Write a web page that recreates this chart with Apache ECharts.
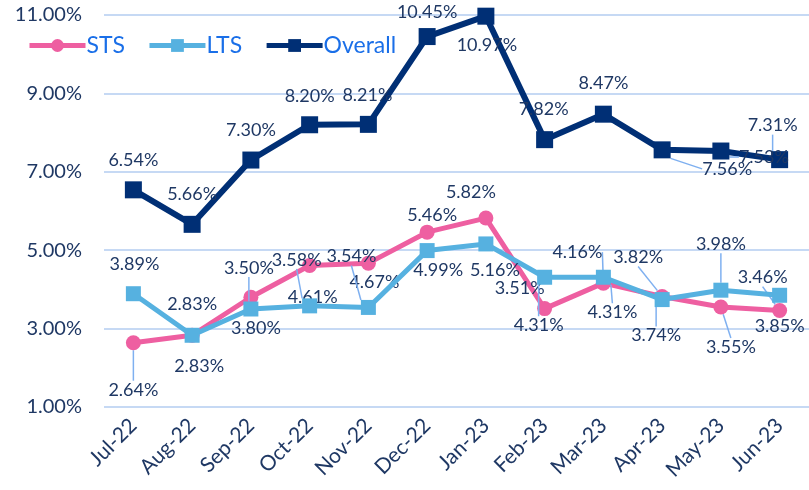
<!DOCTYPE html>
<html>
<head>
<meta charset="utf-8">
<script src="https://cdn.jsdelivr.net/npm/echarts@6/dist/echarts.min.js"></script>
<style>html,body{margin:0;padding:0;background:#fff;}#c{width:809px;height:490px;}</style>
</head>
<body>
<div id="c"></div>
<script>
const categories = ['Jul-22','Aug-22','Sep-22','Oct-22','Nov-22','Dec-22','Jan-23','Feb-23','Mar-23','Apr-23','May-23','Jun-23'];
const stsValues = [2.64, 2.83, 3.80, 4.61, 4.67, 5.46, 5.82, 3.51, 4.16, 3.82, 3.55, 3.46];
const ltsValues = [3.89, 2.83, 3.50, 3.58, 3.54, 4.99, 5.16, 4.31, 4.31, 3.74, 3.98, 3.85];
const overallValues = [6.54, 5.66, 7.30, 8.20, 8.21, 10.45, 10.97, 7.82, 8.47, 7.56, 7.53, 7.31];
const yTicks = [1, 3, 5, 7, 9, 11];

// label placement offsets (px, label centre relative to marker centre) - styling only
const stsLabelOffsets = [[0,47],[0,-31],[5,31],[3,32],[6,19],[5,-17],[-15,-26],[-25,-20],[-26,-31],[-24,-39],[10,40],[-17,-33]];
const ltsLabelOffsets = [[1,-30],[7,31],[-2,-41],[-13,-46],[-17,-51],[11,20],[9,26],[-6,48],[9,35],[-6,36],[0,-46],[0,31]];
const overallLabelOffsets = [[0,-30],[0,-30],[0,-30],[0,-29],[-1,-29],[0,-24],[1,29],[-1,-30],[0,-31],[65,19],[43,6],[-7,-34]];

const textColor = '#1F3864';
const labelFont = 'Lato';

function buildData(values, offsets) {
  return values.map((v, i) => {
    const o = offsets[i];
    const dist = Math.sqrt(o[0]*o[0] + o[1]*o[1]);
    return { value: v, labelLine: { show: dist > 34 } };
  });
}
function layoutFor(offsets) {
  return function (p) {
    const o = offsets[p.dataIndex];
    return {
      x: p.rect.x + p.rect.width / 2 + o[0],
      y: p.rect.y + p.rect.height / 2 + o[1],
      align: 'center',
      verticalAlign: 'middle'
    };
  };
}
function seriesFor(name, values, offsets, color, symbol, size, width, z) {
  return {
    name: name,
    type: 'line',
    data: buildData(values, offsets),
    symbol: symbol,
    symbolSize: size,
    z: z,
    lineStyle: { color: color, width: width },
    itemStyle: { color: color },
    label: {
      show: true,
      position: 'inside',
      formatter: p => p.value.toFixed(2) + '%',
      color: textColor,
      fontFamily: labelFont,
      fontSize: 18
    },
    labelLine: { show: true, lineStyle: { color: '#7FB0F0', width: 1.5 } },
    labelLayout: layoutFor(offsets),
    emphasis: { disabled: true }
  };
}

const chart = echarts.init(document.getElementById('c'), null, { renderer: 'canvas' });
chart.setOption({
  animation: false,
  backgroundColor: '#ffffff',
  textStyle: { fontFamily: labelFont },
  legend: {
    left: 22, top: 29,
    itemWidth: 56, itemHeight: 16, itemGap: 22,
    lineStyle: { width: 5 },
    textStyle: { color: '#1A6FE8', fontSize: 23, fontFamily: labelFont, padding: [0, 0, 0, -4] },
    data: ['STS', 'LTS', 'Overall']
  },
  grid: { left: 104, right: -6, top: 15, bottom: 83, containLabel: false },
  xAxis: {
    type: 'category',
    data: categories,
    boundaryGap: true,
    axisLine: { show: false },
    axisTick: { show: false },
    axisLabel: { rotate: 45, color: textColor, fontSize: 21, fontFamily: labelFont, margin: 15, interval: 0 }
  },
  yAxis: {
    type: 'value',
    min: yTicks[0], max: yTicks[yTicks.length - 1], interval: 2,
    axisLine: { show: false },
    axisTick: { show: false },
    splitLine: { lineStyle: { color: '#C6D9F4', width: 2 } },
    axisLabel: { color: textColor, fontSize: 20, fontFamily: labelFont, margin: 22, formatter: v => v.toFixed(2) + '%' }
  },
  series: [
    seriesFor('STS', stsValues, stsLabelOffsets, '#EE5FA1', 'circle', 15, 5, 3),
    seriesFor('LTS', ltsValues, ltsLabelOffsets, '#56B1E0', 'rect', 15, 5, 4),
    seriesFor('Overall', overallValues, overallLabelOffsets, '#002F75', 'rect', 17, 6, 5)
  ]
});
</script>
</body>
</html>
